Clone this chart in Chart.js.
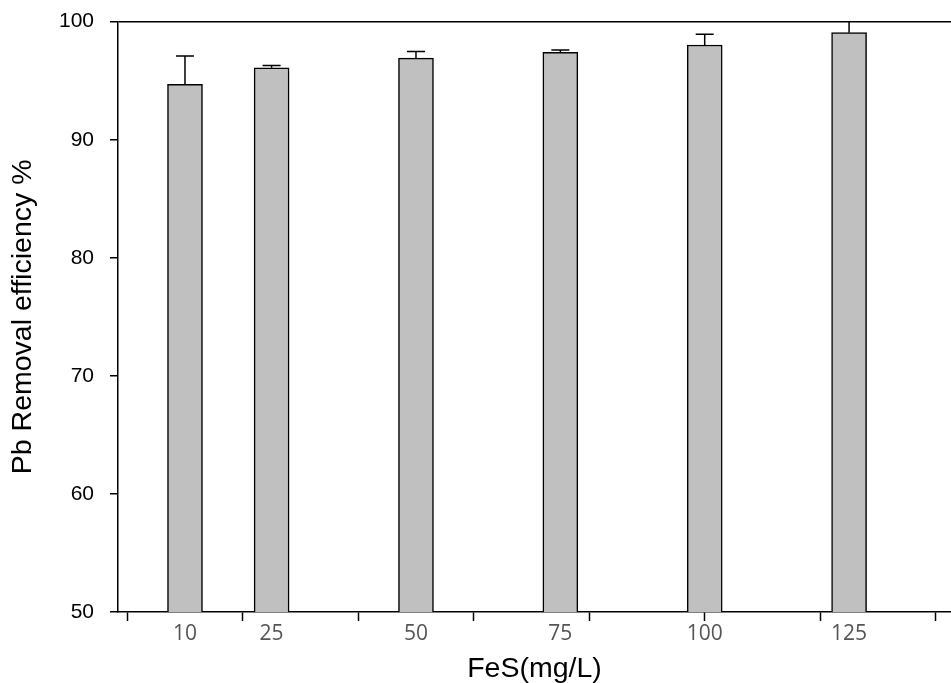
<!DOCTYPE html>
<html>
<head>
<meta charset="utf-8">
<script src="https://cdn.jsdelivr.net/npm/chart.js@4"></script>
<style>
  body { margin: 0; background: #fff; }
  #wrap { width: 951px; height: 683px; }
</style>
</head>
<body>
<div id="wrap"><canvas id="myChart" width="951" height="683"></canvas></div>
<script>
const fesDose = [10, 25, 50, 75, 100, 125];
const removal = [94.7, 96.1, 96.92, 97.4, 98.03, 99.07];
const removalErr = [2.4, 0.2, 0.55, 0.2, 0.9, 1.2];
const majorTicks = [0, 20, 40, 60, 80, 100, 120, 140];
const yTicks = [50, 60, 70, 80, 90, 100];

// upper error bars only, clipped to plot area
const errorBars = {
    id: 'errorBars',
    afterDatasetsDraw(chart) {
        const ctx = chart.ctx;
        const x = chart.scales.x;
        const y = chart.scales.y;
        const area = chart.chartArea;
        ctx.save();
        ctx.beginPath();
        ctx.rect(area.left, area.top, area.right - area.left, area.bottom - area.top);
        ctx.clip();
        ctx.strokeStyle = '#000';
        ctx.lineWidth = 1.5;
        for (let i = 0; i < fesDose.length; i++) {
            const px = x.getPixelForValue(fesDose[i]);
            const y0 = y.getPixelForValue(removal[i]);
            const y1 = y.getPixelForValue(removal[i] + removalErr[i]);
            ctx.beginPath();
            ctx.moveTo(px, y0);
            ctx.lineTo(px, y1);
            ctx.moveTo(px - 9, y1);
            ctx.lineTo(px + 9, y1);
            ctx.stroke();
        }
        ctx.restore();
    }
};

function getContext() {
    const dataset = {
        label: 'Pb Removal efficiency %',
        data: fesDose.map((d, i) => ({ x: d, y: removal[i] })),
        backgroundColor: '#c0c0c0',
        borderColor: '#000',
        borderWidth: 1.5,
        barThickness: 35
    };
    generateChart({ datasets: [dataset] });
}

function generateChart(data) {
    const ctx = document.getElementById('myChart');

    new Chart(ctx, {
        type: 'bar',
        data: data,
        plugins: [errorBars],
        options: {
            responsive: false,
            animation: false,
            layout: { padding: { top: 21.7, right: 0, left: 0, bottom: 0 } },
            scales: {
                x: {
                    type: 'linear',
                    min: -1.6,
                    max: 142.65,
                    offset: false,
                    afterBuildTicks: (axis) => {
                        const vals = [...new Set([...majorTicks, ...fesDose])].sort((a, b) => a - b);
                        axis.ticks = vals.map(v => ({ value: v }));
                    },
                    afterFit: (axis) => { axis.height = 71; },
                    ticks: {
                        autoSkip: false,
                        maxRotation: 0,
                        padding: 0,
                        color: '#555',
                        font: { family: 'Open Sans', size: 21 },
                        callback: (v) => fesDose.includes(v) ? String(v) : ''
                    },
                    grid: {
                        offset: false,
                        drawOnChartArea: false,
                        tickLength: 9,
                        tickWidth: 1.5,
                        tickColor: (c) => (c.tick && c.tick.value % 20 === 0) ? '#000' : 'rgba(0,0,0,0)'
                    },
                    border: { color: '#000', width: 1.5 },
                    title: {
                        display: true,
                        text: 'FeS(mg/L)',
                        color: '#000',
                        font: { family: 'Liberation Sans', size: 28.5, lineHeight: 1 },
                        padding: { top: 0, bottom: 0 }
                    }
                },
                y: {
                    min: 50,
                    max: 100,
                    afterBuildTicks: (axis) => {
                        axis.ticks = yTicks.map(v => ({ value: v }));
                    },
                    afterFit: (axis) => {
                        axis.width = 118;
                        // let the layout padding alone set the top edge
                        axis.paddingTop = 0;
                        axis.paddingBottom = 0;
                    },
                    ticks: {
                        padding: 16,
                        color: '#000',
                        font: { family: 'Liberation Sans', size: 21 }
                    },
                    grid: {
                        tickLength: 8,
                        tickWidth: 1.5,
                        tickColor: '#000',
                        lineWidth: 1.5,
                        color: (c) => (c.tick && c.tick.value === 100) ? '#000' : 'rgba(0,0,0,0)'
                    },
                    border: { color: '#000', width: 1.5 },
                    title: {
                        display: true,
                        text: 'Pb Removal efficiency %',
                        color: '#000',
                        font: { family: 'Liberation Sans', size: 28.5 },
                        padding: { top: 6, bottom: 0 }
                    }
                }
            },
            plugins: {
                legend: { display: false },
                tooltip: { enabled: false }
            }
        }
    });
}

getContext();
</script>
</body>
</html>
